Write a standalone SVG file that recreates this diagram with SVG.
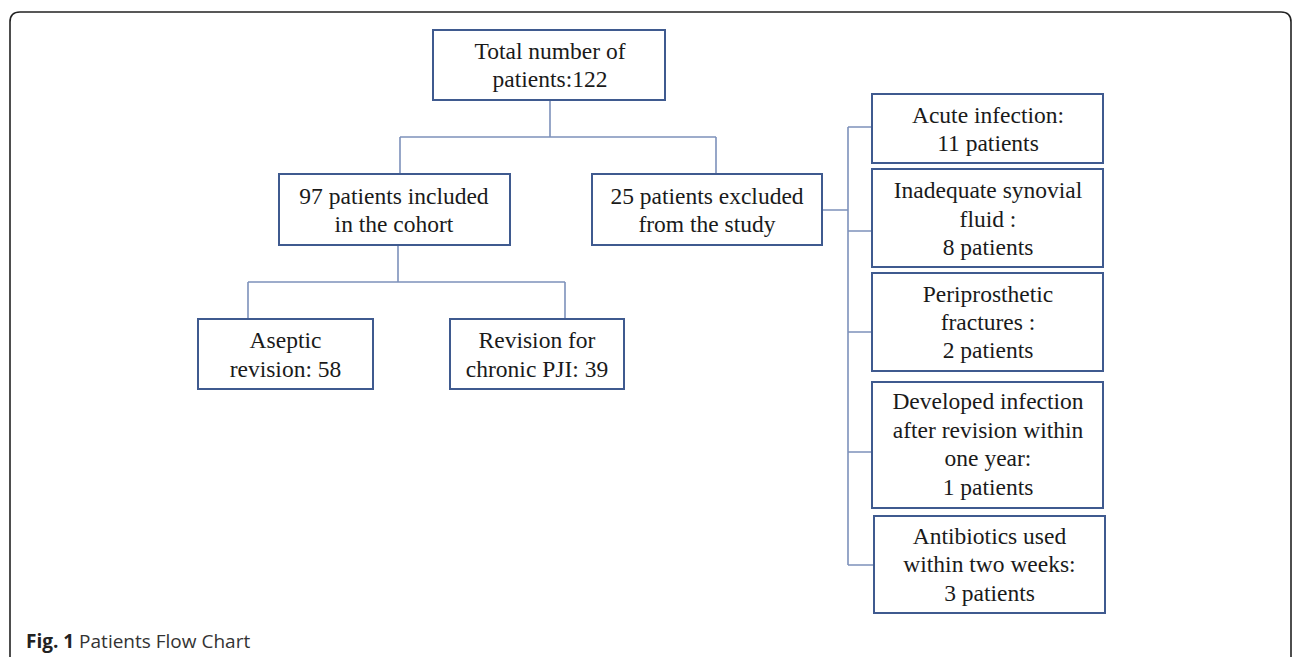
<svg xmlns="http://www.w3.org/2000/svg" width="1293" height="657" viewBox="0 0 1293 657">
<style>
.box{fill:#fff;stroke:#3f5a8f;stroke-width:2}
.t{font-family:"Liberation Serif","Times New Roman",serif;font-size:23.5px;fill:#1a1a1a;text-anchor:middle}
.c{fill:none;stroke:#7d91bb;stroke-width:1.6}
.cap{font-family:"Open Sans","Noto Sans",sans-serif;font-size:19px;fill:#333}
</style>
<rect width="1293" height="657" fill="#fff"/>
<path d="M10,665 V22 Q10,12 20,12 H1281 Q1291,12 1291,22 V665" fill="none" stroke="#222" stroke-width="1.6"/>
<g id="connectors">
<path class="c" d="M550,100 V137 M400,137 H716 M400,137 V174 M716,137 V174"/>
<path class="c" d="M398,245 V282 M248,282 H565 M248,282 V319 M565,282 V319"/>
<path class="c" d="M822,210 H848 M848,127 V565 M848,127 H872 M848,231 H872 M848,332 H872 M848,452 H872 M848,565 H874"/>
</g>
<g id="total"><rect class="box" x="433" y="30" width="232" height="70"/><text class="t" x="550" y="59">Total number of</text><text class="t" x="550" y="87">patients:122</text></g>
<g id="included"><rect class="box" x="279" y="174" width="231" height="71"/><text class="t" x="394" y="204">97 patients included</text><text class="t" x="394" y="232">in the cohort</text></g>
<g id="excluded"><rect class="box" x="592" y="174" width="230" height="71"/><text class="t" x="707" y="204">25 patients excluded</text><text class="t" x="707" y="232">from the study</text></g>
<g id="aseptic"><rect class="box" x="198" y="319" width="175" height="70"/><text class="t" x="285.5" y="348">Aseptic</text><text class="t" x="285.5" y="377">revision: 58</text></g>
<g id="chronic"><rect class="box" x="450" y="319" width="174" height="70"/><text class="t" x="537" y="348">Revision for</text><text class="t" x="537" y="377">chronic PJI: 39</text></g>
<g id="acute"><rect class="box" x="872" y="94" width="231" height="69"/><text class="t" x="988" y="123">Acute infection:</text><text class="t" x="988" y="151">11 patients</text></g>
<g id="synovial"><rect class="box" x="872" y="169" width="231" height="98"/><text class="t" x="988" y="198">Inadequate synovial</text><text class="t" x="988" y="227">fluid :</text><text class="t" x="988" y="255">8 patients</text></g>
<g id="fractures"><rect class="box" x="872" y="273" width="231" height="98"/><text class="t" x="988" y="302">Periprosthetic</text><text class="t" x="988" y="330">fractures :</text><text class="t" x="988" y="358">2 patients</text></g>
<g id="developed"><rect class="box" x="872" y="382" width="231" height="126"/><text class="t" x="988" y="409">Developed infection</text><text class="t" x="988" y="438">after revision within</text><text class="t" x="988" y="466">one year:</text><text class="t" x="988" y="495">1 patients</text></g>
<g id="antibiotics"><rect class="box" x="874" y="516" width="231" height="97"/><text class="t" x="989.5" y="544">Antibiotics used</text><text class="t" x="989.5" y="572">within two weeks:</text><text class="t" x="989.5" y="601">3 patients</text></g>
<text class="cap" x="26" y="648"><tspan font-weight="bold" fill="#222">Fig. 1</tspan> Patients Flow Chart</text>
</svg>
